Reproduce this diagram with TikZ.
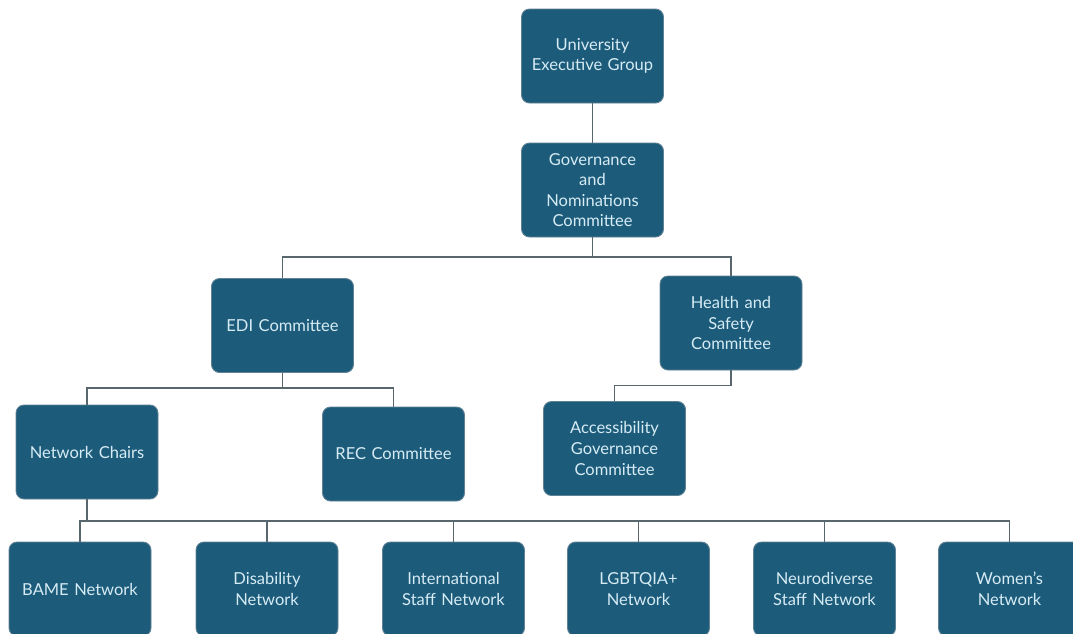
\documentclass[tikz,border=0pt]{standalone}
\usepackage{fontspec}
\setmainfont{Lato}
\definecolor{boxfill}{RGB}{29,91,123}
\definecolor{boxedge}{RGB}{96,130,148}
\definecolor{boxtext}{RGB}{214,236,244}
\definecolor{wire}{RGB}{88,102,110}
\tikzset{
  unit/.style={draw=boxedge, line width=0.9pt, fill=boxfill, rounded corners=8pt,
    minimum width=142pt, minimum height=94pt, text width=134pt, align=center,
    text=boxtext, inner sep=0pt,
    font=\fontsize{16.5}{20.6}\selectfont},
  link/.style={draw=wire, line width=1.1pt}
}
\begin{document}
\begin{tikzpicture}[x=1pt,y=-1pt]
\useasboundingbox (0,0) rectangle (1073,633);

% top of the structure
\node[unit] (ueg) at (592.5,56) {University\\Executive Group};
\node[unit] (gnc) at (592.5,190) {Governance\\and\\Nominations\\Committee};

% committees
\node[unit] (edi) at (282.5,325.5) {EDI Committee};
\node[unit] (hsc) at (731,323) {Health and\\Safety\\Committee};
\node[unit] (nch) at (87,452) {Network Chairs};
\node[unit] (rec) at (393.5,454) {REC Committee};
\node[unit] (acc) at (614.5,448.5) {Accessibility\\Governance\\Committee};

% staff networks
\node[unit] (bame) at (80,589) {BAME Network};
\node[unit] (dis)  at (267,589) {Disability\\Network};
\node[unit] (isn)  at (453.5,589) {International\\Staff Network};
\node[unit] (lgb)  at (638.5,589) {LGBTQIA+\\Network};
\node[unit] (neu)  at (824.5,589) {Neurodiverse\\Staff Network};
\node[unit] (wom)  at (1009.5,589) {Women's\\Network};

% connectors
\draw[link] (ueg.south) -- (gnc.north);

\coordinate (gbus) at (592.5,257);
\draw[link] (gnc.south) -- (gbus) -| (edi.north);
\draw[link] (gbus) -| (hsc.north);

\coordinate (ebus) at (282.5,388);
\draw[link] (edi.south) -- (ebus) -| (nch.north);
\draw[link] (ebus) -| (rec.north);

\draw[link] (hsc.south) -- ++(0,15) -| (acc.north);

\coordinate (nbus) at (87,521);
\draw[link] (nch.south) -- (nbus);
\foreach \n in {bame,dis,isn,lgb,neu,wom}
  \draw[link] (nbus) -| (\n.north);
\end{tikzpicture}
\end{document}
